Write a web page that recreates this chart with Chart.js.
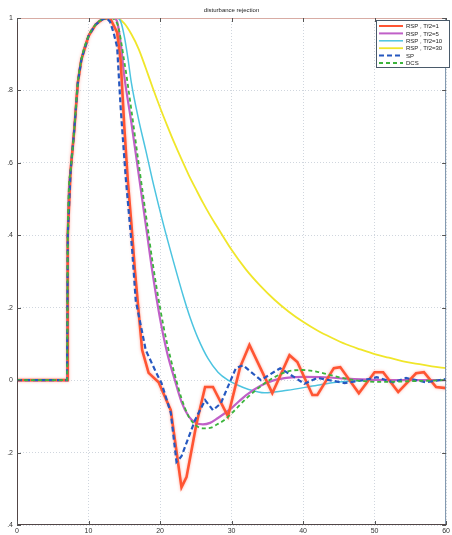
<!DOCTYPE html>
<html>
<head>
<meta charset="UTF-8">
<title>disturbance rejection</title>
<script src="https://cdn.jsdelivr.net/npm/chart.js"></script>
<style>
  html, body { margin: 0; padding: 0; background: #fff; }
  #wrap { width: 452px; height: 535px; }
</style>
</head>
<body>
<div id="wrap"><canvas id="chart-line"></canvas></div>
<script>
// axis ticks
const xTicks = [0, 10, 20, 30, 40, 50, 60];
const yTickValues = [-0.4, -0.2, 0, 0.2, 0.4, 0.6, 0.8, 1];
const yTickLabels = ['.4', '.2', '0', '.2', '.4', '.6', '.8', '1'];

// shared step response (same for every controller)
const riseT = [0, 7, 7.1, 7.5, 8, 8.5, 9, 10, 11, 12];
const riseV = [0, 0, 0.4, 0.58, 0.69, 0.82, 0.885, 0.95, 0.982, 0.997];

// RSP , Tf2=1
const rsp1T = [13, 14, 14.5, 15, 15.5, 16, 16.5, 17, 17.5, 18.4, 19.8, 21.5, 23, 23.7, 25.1, 26.3, 27.4, 29.5, 31.2, 32.5, 35.7, 38.1, 39.2, 41.3, 42, 44.3, 45.2, 47.8, 50, 51.2, 53.3, 55.8, 56.9, 58.6, 60];
const rsp1V = [1, 0.96, 0.88, 0.7, 0.55, 0.43, 0.3, 0.19, 0.083, 0.02, -0.006, -0.083, -0.296, -0.268, -0.12, -0.019, -0.019, -0.1, 0.036, 0.097, -0.036, 0.069, 0.05, -0.041, -0.041, 0.033, 0.036, -0.036, 0.022, 0.022, -0.033, 0.019, 0.022, -0.019, -0.022];

// RSP , Tf2=5
const rsp5T = [13.5, 14, 14.5, 15, 16, 17, 18, 19, 20, 21, 22, 23, 24, 25, 26, 27, 28, 30, 32, 34, 36, 38, 40, 43, 46, 50, 60];
const rsp5V = [1, 0.99, 0.93, 0.84, 0.71, 0.57, 0.43, 0.29, 0.17, 0.075, 0.005, -0.06, -0.1, -0.118, -0.122, -0.118, -0.106, -0.077, -0.042, -0.016, 0, 0.007, 0.009, 0.008, 0.004, 0.001, 0];

// RSP , Tf2=10
const rsp10T = [13, 14, 14.5, 15, 15.5, 16, 17, 18, 19.1, 20.5, 21.9, 23.3, 24.2, 25.3, 26.7, 28.1, 29.5, 30.9, 32.3, 34.6, 37.8, 42, 44.7, 48, 52, 60];
const rsp10V = [1, 1, 0.99, 0.95, 0.89, 0.82, 0.72, 0.635, 0.539, 0.428, 0.326, 0.229, 0.173, 0.116, 0.06, 0.022, 0, -0.014, -0.025, -0.035, -0.028, -0.014, -0.006, -0.001, 0.001, 0.001];

// RSP , Tf2=30
const rsp30T = [13, 14, 15, 16, 17, 18, 19, 20, 21, 22, 23, 24, 25, 26, 27, 28, 30, 32, 34, 36, 38, 40, 42, 44, 46, 48, 50, 52, 54, 56, 58, 60];
const rsp30V = [1, 1, 0.985, 0.955, 0.915, 0.862, 0.806, 0.753, 0.703, 0.655, 0.61, 0.567, 0.528, 0.49, 0.455, 0.423, 0.36, 0.306, 0.261, 0.222, 0.189, 0.161, 0.137, 0.117, 0.099, 0.085, 0.072, 0.062, 0.052, 0.045, 0.038, 0.033];

// SP
const spT = [12.5, 13, 13.5, 14, 14.5, 15.2, 15.6, 16.1, 16.6, 18, 19.5, 20.2, 21.5, 22.3, 23, 24.9, 26.3, 27.4, 28.5, 30.6, 31.6, 34.1, 36.8, 40.2, 42, 45.8, 48.5, 50.3, 52.6, 54.4, 57.2, 60];
const spV = [1, 0.99, 0.96, 0.92, 0.75, 0.56, 0.47, 0.36, 0.22, 0.083, 0.019, -0.008, -0.09, -0.226, -0.21, -0.11, -0.055, -0.083, -0.064, 0.033, 0.041, 0, 0.033, -0.01, 0.006, -0.008, 0, 0.008, -0.006, 0.006, -0.006, 0.003];

// DCS
const dcsT = [13, 14, 15, 16, 17, 18, 19, 20, 21, 22, 23, 24, 25, 26, 27, 28, 29, 30, 32, 34, 36, 38, 40, 42, 44, 46, 48, 51, 55, 60];
const dcsV = [1, 0.985, 0.88, 0.745, 0.6, 0.46, 0.32, 0.2, 0.1, 0.02, -0.05, -0.1, -0.125, -0.133, -0.132, -0.122, -0.11, -0.092, -0.052, -0.018, 0.008, 0.025, 0.028, 0.023, 0.013, 0.004, -0.002, -0.005, -0.003, 0];

const seriesNames = ['RSP , Tf2=1', 'RSP , Tf2=5', 'RSP , Tf2=10', 'RSP , Tf2=30', 'SP', 'DCS'];

function pts(ts, vs) {
    const t = riseT.concat(ts);
    const v = riseV.concat(vs);
    return t.map((x, i) => ({ x: x, y: v[i] }));
}

const smooth = { cubicInterpolationMode: 'monotone' };

const datasets = [
    { label: seriesNames[0], data: pts(rsp1T, rsp1V), borderColor: '#ff5533', borderWidth: 2.6, tension: 0, order: 3 },
    Object.assign({ label: seriesNames[1], data: pts(rsp5T, rsp5V), borderColor: '#c060c8', borderWidth: 2.2, order: 4 }, smooth),
    Object.assign({ label: seriesNames[2], data: pts(rsp10T, rsp10V), borderColor: '#4cc4e0', borderWidth: 1.5, order: 5 }, smooth),
    Object.assign({ label: seriesNames[3], data: pts(rsp30T, rsp30V), borderColor: '#f0e62a', borderWidth: 1.8, order: 6 }, smooth),
    { label: seriesNames[4], data: pts(spT, spV), borderColor: '#2658c0', borderWidth: 2.2, borderDash: [5, 3], tension: 0, order: 2 },
    Object.assign({ label: seriesNames[5], data: pts(dcsT, dcsV), borderColor: '#3cb43c', borderWidth: 1.8, borderDash: [4, 3], order: 1 }, smooth)
];
datasets.forEach(d => { d.pointRadius = 0; d.fill = false; });

// title, frame, inward ticks and legend drawn MATLAB-like
const matlabLook = {
    id: 'matlabLook',
    beforeDatasetDraw(chart, args) {
        if (args.index === 0) {
            chart.ctx.save();
            chart.ctx.shadowColor = 'rgba(255,110,90,0.55)';
            chart.ctx.shadowBlur = 3;
        }
    },
    afterDatasetDraw(chart, args) {
        if (args.index === 0) chart.ctx.restore();
    },
    afterDraw(chart) {
        const ctx = chart.ctx;
        const a = chart.chartArea;
        const xs = chart.scales.x, ys = chart.scales.y;
        ctx.save();
        // frame
        ctx.lineWidth = 1;
        ctx.strokeStyle = '#d8aca4';
        ctx.beginPath(); ctx.moveTo(a.left, a.top + 0.5); ctx.lineTo(a.right, a.top + 0.5); ctx.stroke();
        ctx.strokeStyle = '#7890a8';
        ctx.beginPath(); ctx.moveTo(a.right - 0.5, a.top); ctx.lineTo(a.right - 0.5, a.bottom); ctx.stroke();
        ctx.strokeStyle = '#524646';
        ctx.beginPath(); ctx.moveTo(a.left + 0.5, a.top); ctx.lineTo(a.left + 0.5, a.bottom - 0.5); ctx.lineTo(a.right, a.bottom - 0.5); ctx.stroke();
        // inward tick marks
        ctx.strokeStyle = '#555';
        xTicks.forEach(v => {
            const px = Math.round(xs.getPixelForValue(v)) + 0.5;
            ctx.beginPath(); ctx.moveTo(px, a.bottom); ctx.lineTo(px, a.bottom - 4);
            ctx.moveTo(px, a.top); ctx.lineTo(px, a.top + 4); ctx.stroke();
        });
        yTickValues.forEach(v => {
            const py = Math.round(ys.getPixelForValue(v)) + 0.5;
            ctx.beginPath(); ctx.moveTo(a.left, py); ctx.lineTo(a.left + 4, py);
            ctx.moveTo(a.right, py); ctx.lineTo(a.right - 4, py); ctx.stroke();
        });
        // title
        ctx.fillStyle = '#222';
        ctx.font = '6px "Liberation Sans", Arial, sans-serif';
        ctx.textAlign = 'center';
        ctx.textBaseline = 'middle';
        ctx.fillText('disturbance rejection', (a.left + a.right) / 2, 10);
        // legend box
        const bx = 376, by = 20, bw = 74, bh = 48;
        ctx.fillStyle = '#fff';
        ctx.fillRect(bx, by, bw, bh);
        ctx.strokeStyle = '#4a5a6a';
        ctx.strokeRect(bx + 0.5, by + 0.5, bw - 1, bh - 1);
        ctx.textAlign = 'left';
        chart.data.datasets.forEach((d, i) => {
            const y = by + 6 + i * 7.4;
            ctx.strokeStyle = d.borderColor;
            ctx.lineWidth = Math.min(d.borderWidth, 2);
            ctx.setLineDash(d.borderDash || []);
            ctx.beginPath(); ctx.moveTo(bx + 3, y); ctx.lineTo(bx + 27, y); ctx.stroke();
            ctx.setLineDash([]);
            ctx.fillStyle = '#222';
            ctx.fillText(d.label, bx + 30, y + 0.5);
        });
        ctx.restore();
    }
};

new Chart(document.getElementById('chart-line'), {
    type: 'line',
    data: { datasets: datasets },
    options: {
        responsive: true,
        maintainAspectRatio: false,
        animation: false,
        devicePixelRatio: 1,
        layout: { padding: { top: 18, right: 1, left: 0, bottom: 0 } },
        plugins: { legend: { display: false }, title: { display: false }, tooltip: { enabled: false } },
        scales: {
            x: {
                type: 'linear', min: 0, max: 60,
                afterBuildTicks: s => { s.ticks = xTicks.map(v => ({ value: v })); },
                afterFit: s => { s.height = 10; },
                grid: { color: '#c4ccd6', lineWidth: 0.8, drawTicks: false },
                border: { display: false, dash: [1, 2] },
                ticks: { padding: 2, maxRotation: 0, color: '#333', font: { size: 7, family: '"Liberation Sans", Arial' } }
            },
            y: {
                type: 'linear', min: -0.4, max: 1,
                afterBuildTicks: s => { s.ticks = yTickValues.map(v => ({ value: v })); },
                afterFit: s => { s.width = 17; },
                grid: { color: '#c4ccd6', lineWidth: 0.8, drawTicks: false },
                border: { display: false, dash: [1, 2] },
                ticks: {
                    padding: 4, color: '#333', font: { size: 7, family: '"Liberation Sans", Arial' },
                    callback: (val, i) => yTickLabels[i]
                }
            }
        }
    },
    plugins: [matlabLook]
});
</script>
</body>
</html>
